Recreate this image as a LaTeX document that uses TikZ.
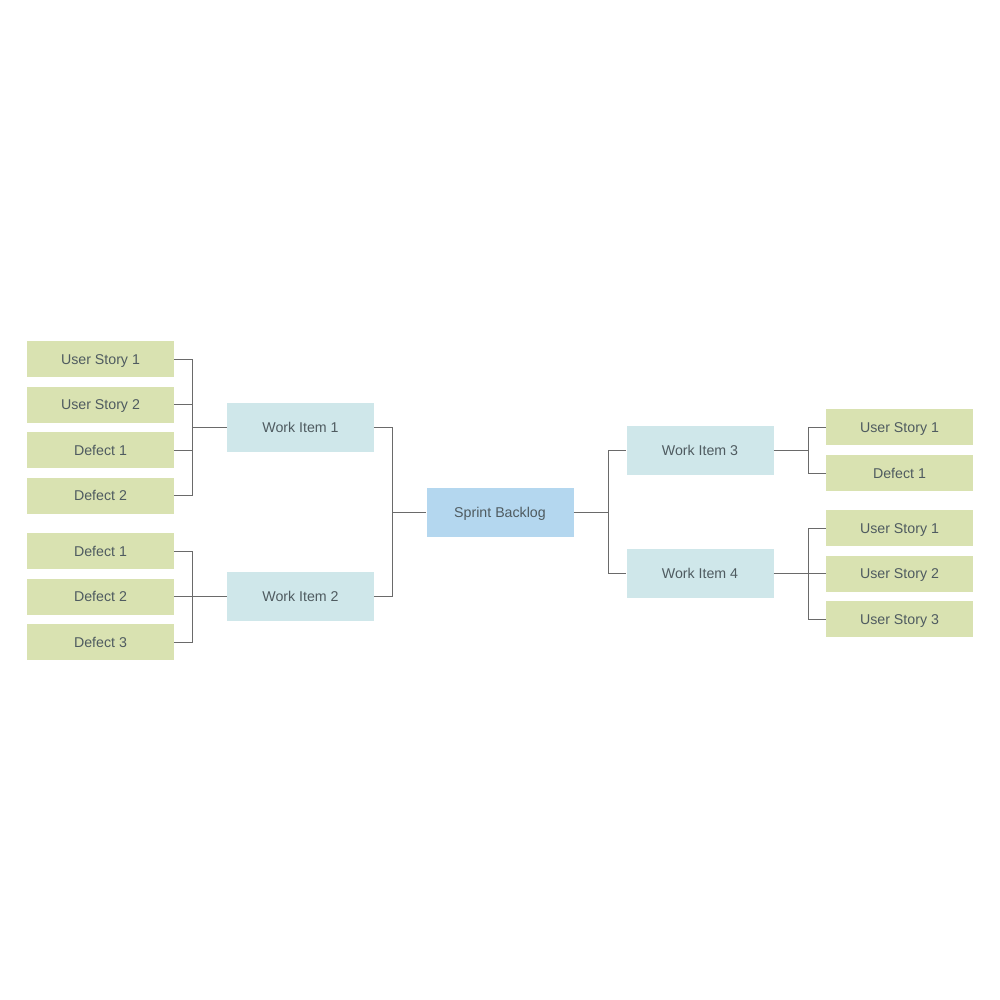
\documentclass[tikz,border=0pt]{standalone}
\usepackage{fontspec}
\setmainfont{Liberation Sans}
\definecolor{leaf}{HTML}{D9E2B1}
\definecolor{item}{HTML}{CFE7EA}
\definecolor{root}{HTML}{B4D7EF}
\definecolor{txt}{HTML}{4F5B60}
\definecolor{wire}{HTML}{6A6A6A}
\begin{document}
\begin{tikzpicture}[x=0.5pt,y=-0.5pt,
  box/.style={draw=none,minimum width=73.5pt,inner sep=0pt,text=txt,font=\fontsize{7.1}{8}\selectfont,text height=5.1pt,text depth=0pt,anchor=center},
  leafbox/.style={box,fill=leaf,minimum height=18pt},
  itembox/.style={box,fill=item,minimum height=24.5pt},
  rootbox/.style={box,fill=root,minimum height=24.5pt},
  conn/.style={draw=wire,line width=0.5pt}]
\useasboundingbox (0,0) rectangle (1000,1000);
\fill[white] (0,0) rectangle (1000,1000);
% left leaves
\node[leafbox] (l1) at (100.5,359) {User Story 1};
\node[leafbox] (l2) at (100.5,404.5) {User Story 2};
\node[leafbox] (l3) at (100.5,450) {Defect 1};
\node[leafbox] (l4) at (100.5,495.5) {Defect 2};
\node[leafbox] (l5) at (100.5,551) {Defect 1};
\node[leafbox] (l6) at (100.5,596.5) {Defect 2};
\node[leafbox] (l7) at (100.5,642) {Defect 3};
% work items
\node[itembox] (w1) at (300.5,427.5) {Work Item 1};
\node[itembox] (w2) at (300.5,596.5) {Work Item 2};
\node[rootbox] (sb) at (500,512) {Sprint Backlog};
\node[itembox] (w3) at (700,450.5) {Work Item 3};
\node[itembox] (w4) at (700,573.5) {Work Item 4};
% right leaves
\node[leafbox] (r1) at (899.5,427) {User Story 1};
\node[leafbox] (r2) at (899.5,473) {Defect 1};
\node[leafbox] (r3) at (899.5,528) {User Story 1};
\node[leafbox] (r4) at (899.5,573.5) {User Story 2};
\node[leafbox] (r5) at (899.5,619) {User Story 3};
% connectors
\foreach \n in {l1,l2,l3,l4} \draw[conn] (\n.east) -| (192,427.5) |- (w1.west);
\foreach \n in {l5,l6,l7} \draw[conn] (\n.east) -| (192,596.5) |- (w2.west);
\foreach \n in {w1,w2} \draw[conn] (\n.east) -| (392,512) |- (sb.west);
\foreach \n in {w3,w4} \draw[conn] (sb.east) -| (608,512) |- (\n.west);
\foreach \n in {r1,r2} \draw[conn] (w3.east) -| (808,450.5) |- (\n.west);
\foreach \n in {r3,r4,r5} \draw[conn] (w4.east) -| (808,573.5) |- (\n.west);
\end{tikzpicture}
\end{document}
